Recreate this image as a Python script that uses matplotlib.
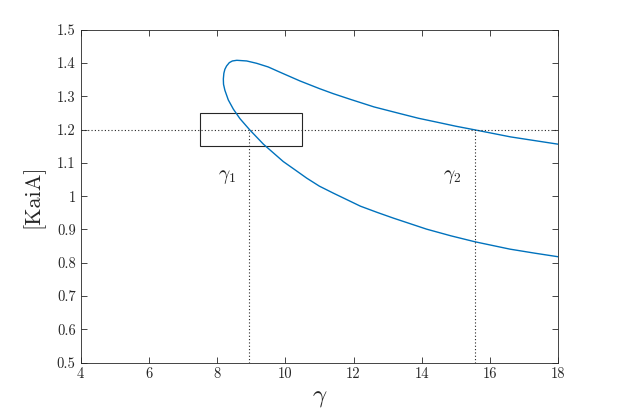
import matplotlib
matplotlib.use("Agg")
import matplotlib.pyplot as plt
from matplotlib.patches import Rectangle

plt.rcParams['font.family'] = ['cmr10', 'DejaVu Serif']
plt.rcParams['mathtext.fontset'] = 'cm'
plt.rcParams['axes.formatter.use_mathtext'] = True

# curve (upper branch -> nose -> lower branch)
curve_x = [18.0, 17.3, 16.6, 15.56, 15.0, 14.5, 13.9, 13.36, 12.6, 11.9, 11.4, 11.0,
           10.43, 9.85, 9.5, 9.16, 8.87, 8.58, 8.45, 8.36, 8.28, 8.23, 8.2, 8.185,
           8.19, 8.23, 8.33, 8.48, 8.67, 8.95, 9.36, 9.94, 10.3, 10.63, 11.0, 11.41,
           12.2, 12.7, 13.17, 14.14, 14.85, 15.56, 16.58, 17.3, 18.0]
curve_y = [1.156, 1.167, 1.178, 1.199, 1.210, 1.221, 1.234, 1.248, 1.268, 1.291, 1.308, 1.323,
           1.346, 1.372, 1.388, 1.399, 1.406, 1.408, 1.406, 1.401, 1.391, 1.381, 1.369, 1.352,
           1.336, 1.318, 1.289, 1.261, 1.233, 1.200, 1.156, 1.104, 1.078, 1.054, 1.030, 1.009,
           0.970, 0.951, 0.934, 0.901, 0.881, 0.863, 0.841, 0.829, 0.818]

level = 1.2
gamma1 = 8.95
gamma2 = 15.55
box_x = [7.5, 10.5]
box_y = [1.15, 1.25]

xticks = [4, 6, 8, 10, 12, 14, 16, 18]
yticks = [0.5, 0.6, 0.7, 0.8, 0.9, 1.0, 1.1, 1.2, 1.3, 1.4, 1.5]
ytick_labels = ['0.5', '0.6', '0.7', '0.8', '0.9', '1', '1.1', '1.2', '1.3', '1.4', '1.5']

fig = plt.figure(figsize=(6.17, 4.12), dpi=100)
ax = fig.add_axes([0.1305, 0.1197, 0.7744, 0.8083])

axc = '#262626'
ax.plot(curve_x, curve_y, color='#0072BD', lw=1.0, solid_joinstyle='round')

ax.plot([4, 18], [level, level], ls=(0, (1, 2)), color=axc, lw=0.8)
ax.plot([gamma1, gamma1], [0.5, level], ls=(0, (1, 2)), color=axc, lw=0.8)
ax.plot([gamma2, gamma2], [0.5, level], ls=(0, (1, 2)), color=axc, lw=0.8)

ax.add_patch(Rectangle((box_x[0], box_y[0]), box_x[1] - box_x[0], box_y[1] - box_y[0],
                       fill=False, edgecolor=axc, lw=0.8))

ax.text(8.3, 1.057, r'$\gamma_1$', fontsize=14, ha='center', va='center', color=axc)
ax.text(14.9, 1.057, r'$\gamma_2$', fontsize=14, ha='center', va='center', color=axc)

ax.set_xlim(4, 18)
ax.set_ylim(0.5, 1.5)
ax.set_xticks(xticks)
ax.set_xticklabels([str(t) for t in xticks])
ax.set_yticks(yticks)
ax.set_yticklabels(ytick_labels)

ax.tick_params(direction='in', top=True, right=True, length=4, width=0.6,
               colors=axc, labelsize=10.5)
for s in ax.spines.values():
    s.set_color(axc)
    s.set_linewidth(0.6)

ax.set_xlabel(r'$\gamma$', fontsize=18, color=axc, labelpad=4)
ax.set_ylabel('[KaiA]', fontsize=16, color=axc, labelpad=9)

fig.savefig('out.png', dpi=100)
